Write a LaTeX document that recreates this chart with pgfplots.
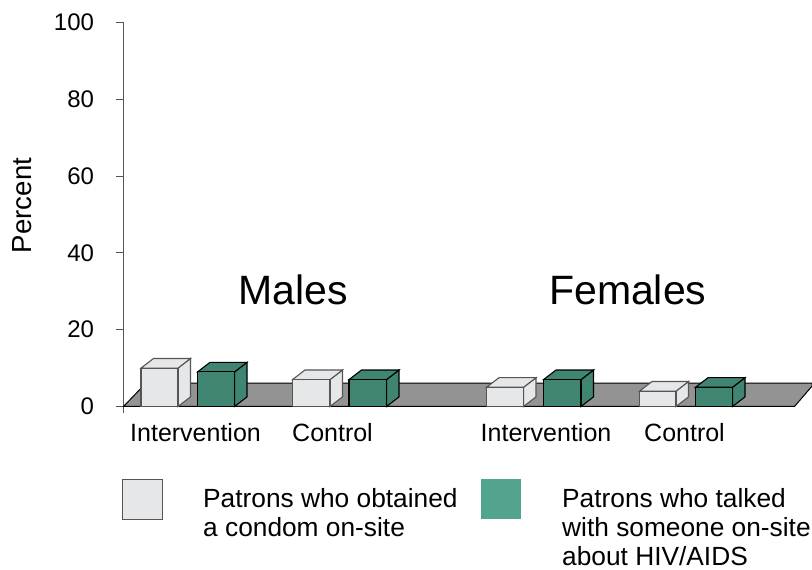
\documentclass[border=0pt]{standalone}
\usepackage{pgfplots}
\pgfplotsset{compat=1.18}
\usepackage{fontspec}
\setmainfont{Liberation Sans}
\definecolor{lt}{HTML}{E6E7E8}
\definecolor{gr}{HTML}{3F8572}
\definecolor{lg}{HTML}{52A48F}
\definecolor{pl}{HTML}{939393}
\definecolor{ax}{HTML}{555555}
\newcommand{\lab}[1]{\fontsize{25}{29}\selectfont #1}
\newcommand{\leg}[1]{\fontsize{26.3}{30}\selectfont #1}
\begin{document}
\begin{tikzpicture}[x=1pt,y=1pt]
\useasboundingbox (0,0) rectangle (812,570);
\begin{axis}[
  at={(123.5pt,163.5pt)}, anchor=origin,
  scale only axis, width=688.5pt, height=384pt,
  xmin=123.5, xmax=812, ymin=0, ymax=100,
  axis x line=none, axis y line=left,
  axis line style={-,ax,line width=1pt},
  y tick style={ax,line width=1pt},
  ytick={0,20,40,60,80,100},
  tick align=outside, major tick length=8pt,
  clip=false,
  /pgf/number format/assume math mode=true,
  yticklabel style={font=\fontsize{24}{28}\selectfont,text=black,xshift=-18pt},
]
\addplot[ax,line width=1pt] coordinates {(123.5,0)(123.5,-1.8)};
% plate
\addplot[fill=pl,draw=black,line width=1pt] coordinates {(123.5,0)(146,6.1)(812,6.1)(812,5.3)(794.5,0)} --cycle;
\addplot[black,line width=1.6pt] coordinates {(123.5,0)(794.5,0)};
% Males Intervention, light, 10
\addplot[fill=lt,draw=ax,line width=1.1pt] coordinates {(178,10)(190.5,12.5)(190.5,2.5)(178,0)} --cycle;
\addplot[fill=lt,draw=ax,line width=1.1pt] coordinates {(141,10)(153.5,12.5)(190.5,12.5)(178,10)} --cycle;
\addplot[fill=lt,draw=ax,line width=1.1pt] coordinates {(141,0)(141,10)(178,10)(178,0)} --cycle;
% Males Intervention, green, 9
\addplot[fill=gr,draw=black,line width=1.1pt] coordinates {(234.5,9)(247,11.5)(247,2.5)(234.5,0)} --cycle;
\addplot[fill=gr,draw=black,line width=1.1pt] coordinates {(197.5,9)(210,11.5)(247,11.5)(234.5,9)} --cycle;
\addplot[fill=gr,draw=black,line width=1.1pt] coordinates {(197.5,0)(197.5,9)(234.5,9)(234.5,0)} --cycle;
% Males Control, light, 7
\addplot[fill=lt,draw=ax,line width=1.1pt] coordinates {(330,7)(342.5,9.5)(342.5,2.5)(330,0)} --cycle;
\addplot[fill=lt,draw=ax,line width=1.1pt] coordinates {(292.5,7)(305,9.5)(342.5,9.5)(330,7)} --cycle;
\addplot[fill=lt,draw=ax,line width=1.1pt] coordinates {(292.5,0)(292.5,7)(330,7)(330,0)} --cycle;
% Males Control, green, 7
\addplot[fill=gr,draw=black,line width=1.1pt] coordinates {(386.5,7)(399,9.5)(399,2.5)(386.5,0)} --cycle;
\addplot[fill=gr,draw=black,line width=1.1pt] coordinates {(349,7)(361.5,9.5)(399,9.5)(386.5,7)} --cycle;
\addplot[fill=gr,draw=black,line width=1.1pt] coordinates {(349,0)(349,7)(386.5,7)(386.5,0)} --cycle;
% Females Intervention, light, 5
\addplot[fill=lt,draw=ax,line width=1.1pt] coordinates {(523.5,5)(536,7.5)(536,2.5)(523.5,0)} --cycle;
\addplot[fill=lt,draw=ax,line width=1.1pt] coordinates {(486.5,5)(499,7.5)(536,7.5)(523.5,5)} --cycle;
\addplot[fill=lt,draw=ax,line width=1.1pt] coordinates {(486.5,0)(486.5,5)(523.5,5)(523.5,0)} --cycle;
% Females Intervention, green, 7
\addplot[fill=gr,draw=black,line width=1.1pt] coordinates {(581,7)(593.5,9.5)(593.5,2.5)(581,0)} --cycle;
\addplot[fill=gr,draw=black,line width=1.1pt] coordinates {(543.5,7)(556,9.5)(593.5,9.5)(581,7)} --cycle;
\addplot[fill=gr,draw=black,line width=1.1pt] coordinates {(543.5,0)(543.5,7)(581,7)(581,0)} --cycle;
% Females Control, light, 4
\addplot[fill=lt,draw=ax,line width=1.1pt] coordinates {(676,4)(688.5,6.5)(688.5,2.5)(676,0)} --cycle;
\addplot[fill=lt,draw=ax,line width=1.1pt] coordinates {(639.5,4)(652,6.5)(688.5,6.5)(676,4)} --cycle;
\addplot[fill=lt,draw=ax,line width=1.1pt] coordinates {(639.5,0)(639.5,4)(676,4)(676,0)} --cycle;
% Females Control, green, 5
\addplot[fill=gr,draw=black,line width=1.1pt] coordinates {(732.5,5)(745,7.5)(745,2.5)(732.5,0)} --cycle;
\addplot[fill=gr,draw=black,line width=1.1pt] coordinates {(695.5,5)(708,7.5)(745,7.5)(732.5,5)} --cycle;
\addplot[fill=gr,draw=black,line width=1.1pt] coordinates {(695.5,0)(695.5,5)(732.5,5)(732.5,0)} --cycle;
\end{axis}
\node[rotate=90,inner sep=0pt] at (22,364.5) {\fontsize{27.6}{31}\selectfont Percent};
\node[anchor=base west,inner sep=0pt] at (238,265) {\fontsize{41}{45}\selectfont Males};
\node[anchor=base west,inner sep=0pt] at (549,265) {\fontsize{41}{45}\selectfont Females};
\node[anchor=base west,inner sep=0pt] at (130,128.5) {\lab{Intervention}};
\node[anchor=base west,inner sep=0pt] at (292,128.5) {\lab{Control}};
\node[anchor=base west,inner sep=0pt] at (480.5,128.5) {\lab{Intervention}};
\node[anchor=base west,inner sep=0pt] at (644,128.5) {\lab{Control}};
\fill[lt] (122,50.5) rectangle (162,90.5);
\draw[ax,line width=1pt] (122,50.5) rectangle (162,90.5);
\fill[lg] (481,51) rectangle (521,91);
\node[anchor=base west,inner sep=0pt] at (203,62.5) {\leg{Patrons who obtained}};
\node[anchor=base west,inner sep=0pt] at (203,33) {\leg{a condom on-site}};
\node[anchor=base west,inner sep=0pt] at (562,62.5) {\leg{Patrons who talked}};
\node[anchor=base west,inner sep=0pt] at (562,33.5) {\leg{with someone on-site}};
\node[anchor=base west,inner sep=0pt] at (562,4) {\leg{about HIV/AIDS}};
\end{tikzpicture}
\end{document}
